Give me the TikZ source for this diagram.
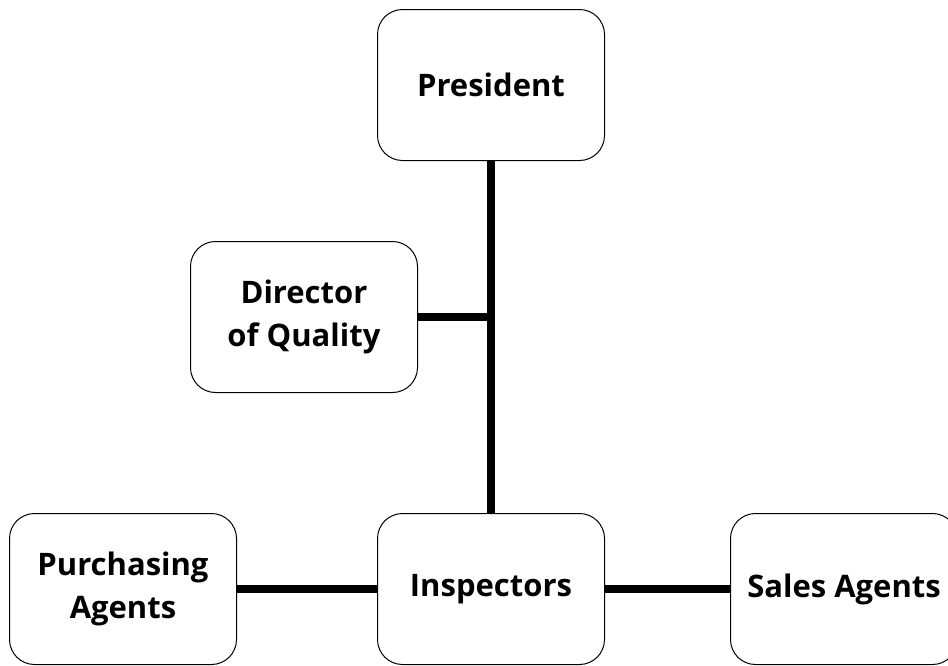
\documentclass[tikz,border=0pt]{standalone}
\usepackage{fontspec}
\setmainfont{Open Sans}
\begin{document}
\begin{tikzpicture}[x=1pt,y=-1pt,
  box/.style={draw=black, line width=1pt, rounded corners=25pt, minimum width=227pt, minimum height=151pt, align=center, inner sep=0pt,
    font=\fontsize{31}{43}\selectfont\bfseries, anchor=north west, fill=white},
  conn/.style={line width=8pt}]
\useasboundingbox[fill=white] (0,0) rectangle (948,665);
\node[box] (pres) at (377,9) {President};
\node[box] (dir) at (190,241) {Director\\of Quality};
\node[box] (purch) at (9,513) {Purchasing\\Agents};
\node[box] (insp) at (377,513) {Inspectors};
\node[box] (sales) at (730,513) {Sales Agents};
\coordinate (j) at (pres.south |- dir.east);
\draw[conn] (pres.south) -- (insp.north);
\draw[conn] (dir.east) -- ([xshift=4pt]j);
\draw[conn] (purch.east) -- (insp.west);
\draw[conn] (insp.east) -- (sales.west);
\end{tikzpicture}
\end{document}
